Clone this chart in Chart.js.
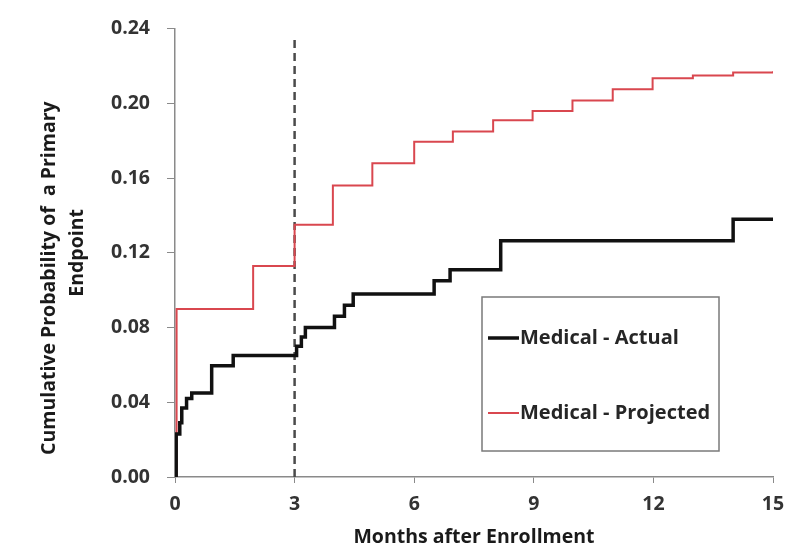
<!DOCTYPE html>
<html>
<head>
<meta charset="utf-8">
<script src="https://cdn.jsdelivr.net/npm/chart.js@4.4.1/dist/chart.umd.min.js"></script>
<style>
body { margin:0; background:#fff; }
</style>
</head>
<body>
<canvas id="myChart" width="788" height="551"></canvas>
<script>
// months after enrollment where each curve steps up, and the value after the step
var actualMonths = [0, 0.03, 0.12, 0.17, 0.29, 0.42, 0.92, 1.46, 3.05, 3.17, 3.27, 4.0, 4.25, 4.47, 6.5, 6.9, 8.17, 14.0, 15];
var actualValues = [0, 0.023, 0.029, 0.037, 0.042, 0.045, 0.0595, 0.065, 0.070, 0.075, 0.080, 0.086, 0.092, 0.098, 0.105, 0.111, 0.1265, 0.138, 0.138];

var projectedMonths = [0, 0.04, 1.96, 3.0, 3.96, 4.95, 6.0, 6.97, 7.98, 8.97, 9.97, 10.98, 11.98, 12.99, 14.0, 15];
var projectedValues = [0, 0.090, 0.113, 0.135, 0.156, 0.168, 0.1795, 0.185, 0.191, 0.196, 0.2016, 0.2076, 0.2135, 0.215, 0.2165, 0.2172];

var cutoffMonth = 3;
var cutoffRange = [0, 0.235];

var xTicks = [0, 3, 6, 9, 12, 15];
var yTicks = [0, 0.04, 0.08, 0.12, 0.16, 0.20, 0.24];

var seriesNames = ["Medical - Actual", "Medical - Projected"];

var black = "#111111";
var red = "#d9474f";
var fontFamily = "'Open Sans'";

function toPoints(xs, ys){
    var pts = [];
    for (var i = 0; i < xs.length; i++) pts.push({x: xs[i], y: ys[i]});
    return pts;
}

// legend box drawn inside the plot, like the original
var boxLegend = {
    id: "boxLegend",
    afterDatasetsDraw: function(chart){
        var ctx = chart.ctx;
        ctx.save();
        ctx.strokeStyle = "#7a7a7a";
        ctx.lineWidth = 1.5;
        ctx.strokeRect(482, 297, 237, 154);
        var rows = [
            {y: 338, color: black, w: 3.5},
            {y: 413, color: red, w: 2}
        ];
        ctx.font = "bold 20px " + fontFamily;
        ctx.textBaseline = "middle";
        ctx.fillStyle = "#262626";
        for (var i = 0; i < rows.length; i++){
            ctx.beginPath();
            ctx.strokeStyle = rows[i].color;
            ctx.lineWidth = rows[i].w;
            ctx.moveTo(488, rows[i].y);
            ctx.lineTo(519, rows[i].y);
            ctx.stroke();
            ctx.fillText(seriesNames[i], 520, rows[i].y);
        }
        ctx.restore();
    }
};

var canvas = document.getElementById("myChart");
var myChart = new Chart(canvas, {
    type: "line",
    data: {
        datasets: [{
            label: seriesNames[0],
            data: toPoints(actualMonths, actualValues),
            borderColor: black,
            borderWidth: 3.5,
            stepped: true,
            pointRadius: 0,
            fill: false,
            order: 0
        }, {
            label: seriesNames[1],
            data: toPoints(projectedMonths, projectedValues),
            borderColor: red,
            borderWidth: 2,
            stepped: true,
            pointRadius: 0,
            fill: false,
            order: 1
        }, {
            label: "cutoff",
            data: toPoints([cutoffMonth, cutoffMonth], cutoffRange),
            borderColor: "#4a4a4a",
            borderWidth: 2.5,
            borderDash: [8, 5],
            pointRadius: 0,
            fill: false,
            order: 2
        }]
    },
    options: {
        responsive: false,
        animation: false,
        layout: { padding: { top: 25, right: 15, bottom: 0, left: 0 } },
        plugins: {
            legend: { display: false },
            tooltip: { enabled: false }
        },
        scales: {
            x: {
                type: "linear",
                min: 0,
                max: 15,
                afterBuildTicks: function(scale){
                    scale.ticks = xTicks.map(function(v){ return {value: v}; });
                },
                afterFit: function(scale){
                    scale.height = 74;
                    scale.paddingLeft = 0;
                    scale.paddingRight = 0;
                },
                ticks: {
                    color: "#333",
                    font: { family: fontFamily, size: 19.5, weight: "bold" },
                    padding: 10,
                    maxRotation: 0
                },
                grid: {
                    drawOnChartArea: false,
                    tickLength: 6,
                    tickColor: "#8a8a8a"
                },
                border: { color: "#8a8a8a", width: 1.5 },
                title: {
                    display: true,
                    text: "Months after Enrollment",
                    color: "#1a1a1a",
                    font: { family: fontFamily, size: 19.5, weight: "bold" },
                    padding: { top: 0, bottom: 2 }
                }
            },
            y: {
                min: 0,
                max: 0.24,
                afterBuildTicks: function(scale){
                    scale.ticks = yTicks.map(function(v){ return {value: v}; });
                },
                afterFit: function(scale){ scale.width = 175; },
                ticks: {
                    color: "#333",
                    font: { family: fontFamily, size: 19.5, weight: "bold" },
                    padding: 17,
                    callback: function(v){ return v.toFixed(2); }
                },
                grid: {
                    drawOnChartArea: false,
                    tickLength: 8,
                    tickColor: "#8a8a8a"
                },
                border: { color: "#8a8a8a", width: 1.5 },
                title: {
                    display: true,
                    // trailing spaces keep the first line sitting lower, as in the original
                    text: ["Cumulative Probability of  a Primary          ", "Endpoint"],
                    color: "#1a1a1a",
                    font: { family: fontFamily, size: 19.5, weight: "bold", lineHeight: 1.4 },
                    padding: { top: 36, bottom: 0 }
                }
            }
        }
    },
    plugins: [boxLegend]
});
</script>
</body>
</html>
